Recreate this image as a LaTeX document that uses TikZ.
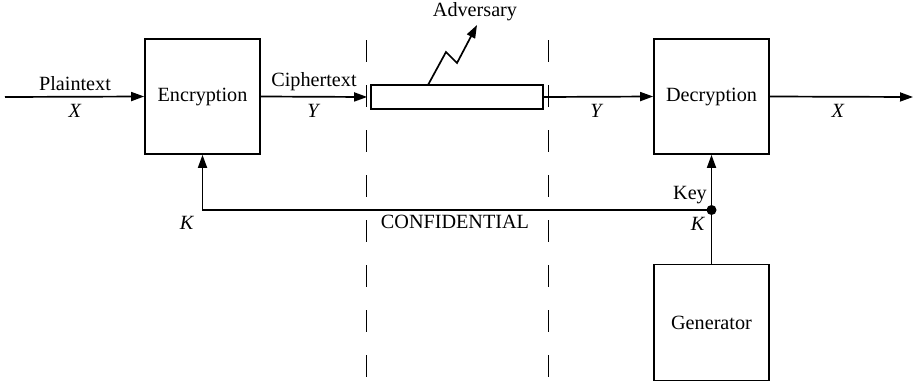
\documentclass[tikz,border=0pt]{standalone}
\usepackage{fontspec}
\setmainfont{Liberation Serif}
\usetikzlibrary{arrows.meta}
\begin{document}
\begin{tikzpicture}[x=1pt,y=-1pt,
  line width=1.7pt,
  every node/.style={font=\fontsize{20.2}{24}\selectfont, inner sep=0pt},
  blockbox/.style={draw, minimum width=115pt, minimum height=115pt},
  flow/.style={-{Triangle[length=13pt,width=9pt]}},
  zone/.style={line width=1pt, dash pattern=on 22pt off 23pt}]
\useasboundingbox (0,0) rectangle (915,380);
% dashed zone lines
\draw[zone] (366,40) -- (366,380);
\draw[zone] (548,40) -- (548,380);
% blocks
\node[blockbox] (enc) at (202.5,96.5) {Encryption};
\node[blockbox] (dec) at (711.5,96.5) {Decryption};
\node[blockbox, minimum height=116pt] (gen) at (711.5,322.5) {Generator};
\node[draw, minimum width=172pt, minimum height=24pt] (chan) at (457,97) {};
% free ends
\coordinate (in) at (5,97);
\coordinate (out) at (913,97);
\coordinate (junc) at (711.5,210);
\coordinate (corner) at (202.5,210);
% main flow
\draw[flow] (in) -- (enc.west);
\draw[flow] (enc.east) -- ([xshift=-3pt]chan.west);
\draw[flow] (chan.east) -- (dec.west);
\draw[flow] (dec.east) -- (out);
% key distribution
\draw (gen.north) -- (junc);
\draw[flow] (junc) -- (dec.south);
\draw[flow] (junc) -- (corner) -- (enc.south);
\fill (junc) circle (5pt);
% adversary
\coordinate (tap) at (428,85);
\coordinate (z1) at (446,52);
\coordinate (z2) at (457,63);
\coordinate (adv) at (477,25);
\draw[flow] (tap) -- (z1) -- (z2) -- (adv);
% labels
\node (advl) at (475,12) {Adversary};
\node (ptl) at (75,84) {Plaintext};
\node (ptx) at (75,111) {\textit{X}};
\node (ctl) at (314,82) {Ciphertext};
\node (cty) at (314,111) {\textit{Y}};
\node (ry) at (597,111) {\textit{Y}};
\node (rx) at (838,111) {\textit{X}};
\node (kl) at (187,223) {\textit{K}};
\node (keyl) at (690,195) {Key};
\node (kr) at (698,224) {\textit{K}};
\node (conf) at (455,222) {CONFIDENTIAL};
\end{tikzpicture}
\end{document}
